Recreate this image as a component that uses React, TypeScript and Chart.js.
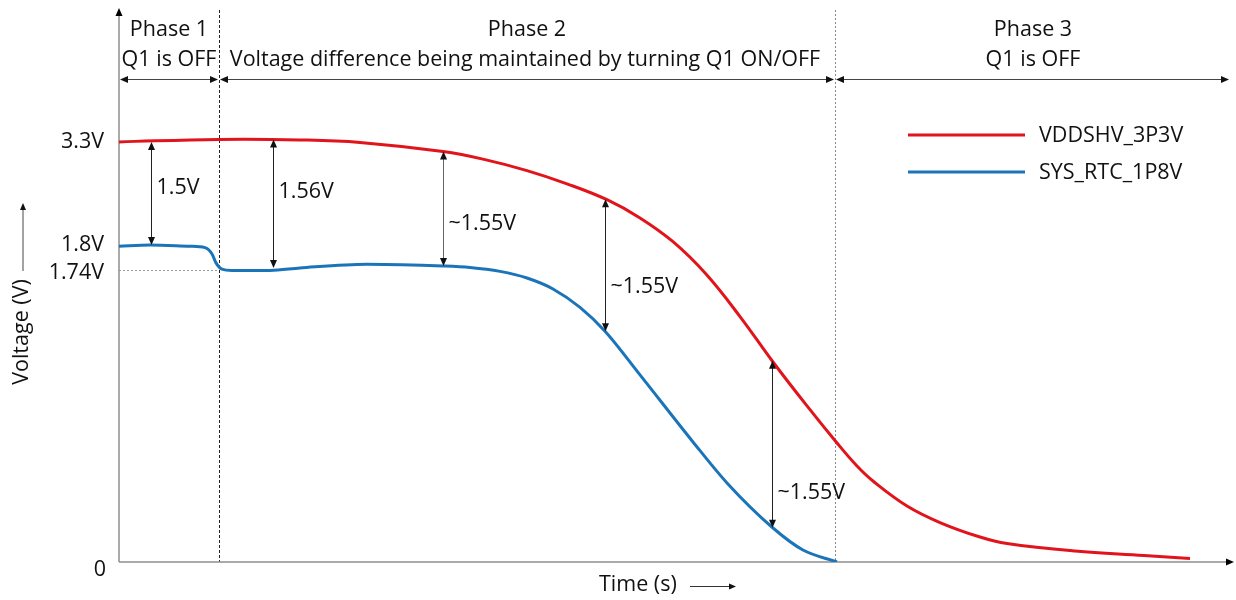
import React, { useEffect, useRef } from "react";
import { Chart, registerables } from "chart.js";

Chart.register(...registerables);

// ---- data (schematic units: time index, voltage level on the drawing) ----
const redX = [0, 10, 18.1, 24.1, 32.4, 36.6, 40.8, 44.8, 48.8, 52.1, 55.4, 58.7, 62.1, 65.4, 68.8, 71.8, 73.8, 75.4, 78.8, 82.1, 86.1, 88.8, 95.6, 102.5, 107.1];
const redY = [3.3, 3.32, 3.316, 3.296, 3.224, 3.161, 3.075, 2.971, 2.846, 2.703, 2.516, 2.262, 1.928, 1.571, 1.226, 0.935, 0.754, 0.636, 0.44, 0.31, 0.196, 0.145, 0.086, 0.051, 0.027];
const blueX = [0, 3.1, 7.1, 8.6, 9.3, 9.7, 10.3, 11.3, 15.1, 18.1, 24.8, 32.4, 35.1, 38.1, 40.8, 43.4, 46.1, 48.6, 52.1, 57.4, 60.8, 65.4, 68.4, 71.8];
const blueY = [2.48, 2.49, 2.48, 2.47, 2.42, 2.35, 2.3, 2.29, 2.29, 2.31, 2.34, 2.326, 2.314, 2.283, 2.231, 2.145, 2.0, 1.813, 1.47, 0.943, 0.621, 0.267, 0.094, 0];
const seriesNames = ["VDDSHV_3P3V", "SYS_RTC_1P8V"];
const seriesColors = ["#E1141C", "#1A74BA"];

const yTickValues = [0, 2.29, 2.49, 3.3];
const yTickLabels = ["0", "1.74V", "1.8V", "3.3V"];

const phaseBounds = [0, 10, 71.6, 111.1];
const phaseTitles = ["Phase 1", "Phase 2", "Phase 3"];
const phaseSubtitles = ["Q1 is OFF", "Voltage difference being maintained by turning Q1 ON/OFF", "Q1 is OFF"];

const measX = [3.2, 15.4, 32.4, 48.6, 65.3];
const measTop = [3.3, 3.32, 3.224, 2.85, 1.58];
const measBottom = [2.49, 2.31, 2.326, 1.813, 0.27];
const measLabels = ["1.5V", "1.56V", "~1.55V", "~1.55V", "~1.55V"];
const measLabelY = [2.94, 2.91, 2.66, 2.16, 0.54];

const FONT = '"Open Sans", Lato, "DejaVu Sans", sans-serif';
const FS = 21.5;

function head(ctx: CanvasRenderingContext2D, tx: number, ty: number, dx: number, dy: number, len = 8, half = 3.5) {
  const px = -dy, py = dx;
  ctx.beginPath();
  ctx.moveTo(tx, ty);
  ctx.lineTo(tx - dx * len + px * half, ty - dy * len + py * half);
  ctx.lineTo(tx - dx * len - px * half, ty - dy * len - py * half);
  ctx.closePath();
  ctx.fill();
}
function seg(ctx: CanvasRenderingContext2D, x1: number, y1: number, x2: number, y2: number) {
  ctx.beginPath();
  ctx.moveTo(x1, y1);
  ctx.lineTo(x2, y2);
  ctx.stroke();
}

const schematicPlugin = {
  id: "schematic",
  beforeDatasetsDraw(chart: any) {
    const { ctx, scales, chartArea } = chart;
    const X = (v: number) => scales.x.getPixelForValue(v);
    const Y = (v: number) => scales.y.getPixelForValue(v);
    const top = chartArea.top - 25;
    ctx.save();
    // dotted 1.74V guide
    ctx.strokeStyle = "#9a9a9a";
    ctx.lineWidth = 1;
    ctx.setLineDash([2, 2]);
    seg(ctx, X(0), Math.round(Y(yTickValues[1])) + 0.5, X(phaseBounds[1]), Math.round(Y(yTickValues[1])) + 0.5);
    // phase boundaries
    ctx.strokeStyle = "#222";
    ctx.setLineDash([3, 2]);
    seg(ctx, Math.round(X(phaseBounds[1])) + 0.5, top, Math.round(X(phaseBounds[1])) + 0.5, Y(0));
    ctx.strokeStyle = "#888";
    ctx.setLineDash([2, 2]);
    seg(ctx, Math.round(X(phaseBounds[2])) + 0.5, top, Math.round(X(phaseBounds[2])) + 0.5, Y(0));
    // axes
    ctx.setLineDash([]);
    ctx.strokeStyle = "#8e8e8e";
    ctx.lineWidth = 1.5;
    seg(ctx, X(0), Y(0), X(0), chartArea.top - 20);
    seg(ctx, X(0), Y(0), chartArea.right - 4, Y(0));
    ctx.fillStyle = "#000";
    head(ctx, X(0), chartArea.top - 27, 0, -1, 8, 3.5);
    head(ctx, chartArea.right + 2, Y(0), 1, 0, 8, 3.5);
    ctx.restore();
  },
  afterDatasetsDraw(chart: any) {
    const { ctx, scales } = chart;
    const X = (v: number) => scales.x.getPixelForValue(v);
    const Y = (v: number) => scales.y.getPixelForValue(v);
    ctx.save();
    ctx.fillStyle = "#111";
    ctx.font = `${FS}px ${FONT}`;

    // y tick labels
    ctx.textAlign = "right";
    yTickValues.forEach((v, i) => {
      if (v === 0) {
        ctx.textBaseline = "top";
        ctx.fillText(yTickLabels[i], X(0) - 13, Y(v) - 3);
      } else {
        ctx.textBaseline = "middle";
        ctx.fillText(yTickLabels[i], X(0) - 15, Y(v) + (i === 1 ? 2 : 0));
      }
    });

    // phase titles and spans
    ctx.textAlign = "center";
    ctx.textBaseline = "middle";
    for (let i = 0; i < 3; i++) {
      const a = X(phaseBounds[i]);
      const b = X(phaseBounds[i + 1]);
      const c = i === 2 ? 1033 : (a + b) / 2;
      ctx.fillText(phaseTitles[i], c, 30);
      ctx.fillText(phaseSubtitles[i], i === 1 ? c - 2 : c, 60);
      ctx.strokeStyle = "#444";
      ctx.lineWidth = 1;
      const yy = 79.5;
      seg(ctx, a + 2, yy, b - 2, yy);
      ctx.fillStyle = "#111";
      head(ctx, a + 1, yy, -1, 0, 8, 3.5);
      head(ctx, b - 1, yy, 1, 0, 8, 3.5);
    }

    // measurement arrows
    ctx.textAlign = "left";
    for (let i = 0; i < measX.length; i++) {
      const px = Math.round(X(measX[i])) + 0.5;
      const t = Y(measTop[i]);
      const bt = Y(measBottom[i]);
      ctx.strokeStyle = i === 2 ? "#666" : "#222";
      ctx.lineWidth = 1;
      seg(ctx, px, t + 4, px, bt - 4);
      ctx.fillStyle = "#111";
      head(ctx, px, t, 0, -1, 8, 3.5);
      head(ctx, px, bt, 0, 1, 8, 3.5);
      ctx.fillText(measLabels[i], px + 5, Y(measLabelY[i]));
    }

    // legend
    const lx1 = 908, lx2 = 1025, ly = [135, 172];
    seriesNames.forEach((n, i) => {
      ctx.strokeStyle = seriesColors[i];
      ctx.lineWidth = 3;
      seg(ctx, lx1, ly[i], lx2, ly[i]);
      ctx.fillStyle = "#111";
      ctx.fillText(n, 1039, ly[i] + 1);
    });

    // y title
    ctx.save();
    ctx.translate(22, 332);
    ctx.rotate(-Math.PI / 2);
    ctx.textAlign = "center";
    ctx.fillText("Voltage (V)", 0, 0);
    ctx.restore();
    ctx.strokeStyle = "#666";
    ctx.lineWidth = 1.2;
    seg(ctx, 23, 271, 23, 208);
    ctx.fillStyle = "#111";
    head(ctx, 23, 203, 0, -1, 7, 3);

    // x title
    ctx.textAlign = "left";
    ctx.fillText("Time (s)", 599, 585);
    ctx.strokeStyle = "#333";
    seg(ctx, 690, 586.5, 730, 586.5);
    head(ctx, 736, 586.5, 1, 0, 7, 3);

    ctx.restore();
  },
};

export default function App() {
  const ref = useRef<HTMLCanvasElement>(null);
  useEffect(() => {
    const prevMargin = document.body.style.margin;
    document.body.style.margin = "0";
    const canvas = ref.current!;
    const chart = new Chart(canvas, {
      type: "line",
      data: {
        datasets: [
          {
            label: seriesNames[0],
            data: redX.map((x, i) => ({ x, y: redY[i] })),
            borderColor: seriesColors[0],
            borderWidth: 3,
            pointRadius: 0,
            tension: 0.4,
          },
          {
            label: seriesNames[1],
            data: blueX.map((x, i) => ({ x, y: blueY[i] })),
            borderColor: seriesColors[1],
            borderWidth: 3,
            pointRadius: 0,
            cubicInterpolationMode: "monotone",
          },
        ],
      },
      options: {
        responsive: false,
        animation: false,
        devicePixelRatio: 1,
        layout: { padding: { left: 119, right: 4, top: 35, bottom: 38 } },
        scales: {
          x: { type: "linear", min: 0, max: 111.3, display: false },
          y: { type: "linear", min: 0, max: 4.14, display: false },
        },
        plugins: { legend: { display: false }, tooltip: { enabled: false } },
      },
      plugins: [schematicPlugin],
    });
    return () => {
      chart.destroy();
      document.body.style.margin = prevMargin;
    };
  }, []);
  return (
    <div style={{ position: "absolute", left: 0, top: 0, width: 1236, height: 600, background: "#fff" }}>
      <canvas ref={ref} width={1236} height={600} />
    </div>
  );
}
